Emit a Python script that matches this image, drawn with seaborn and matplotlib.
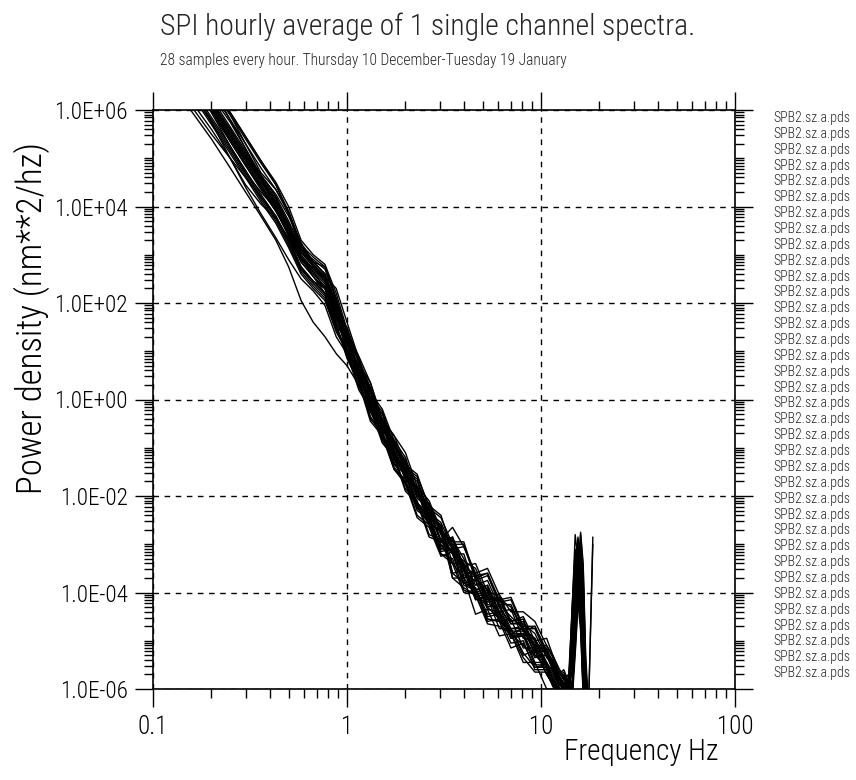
import numpy as np
import pandas as pd
import seaborn as sns
import matplotlib.pyplot as plt
from matplotlib.ticker import FixedLocator, LogLocator, NullFormatter, FuncFormatter

sns.set_theme(style="white")
plt.rcParams["font.family"] = ["Roboto Condensed", "Liberation Sans", "DejaVu Sans"]
plt.rcParams["font.weight"] = "light"
plt.rcParams["axes.labelweight"] = "light"

# Frequencies (Hz) shared by every spectrum
freq_hz = [0.10, 0.15, 0.20, 0.25, 0.30, 0.36, 0.43, 0.50, 0.58, 0.67, 0.77, 0.88,
           1.0, 1.15, 1.32, 1.52, 1.75, 2.0, 2.3, 2.65, 3.05,
           3.5, 4.0, 4.6, 5.3, 6.1, 7.0, 8.1, 9.3, 10.7,
           11.5, 12.3, 13.1, 13.9, 14.5, 15.0, 15.5, 16.0, 16.5, 17.0, 17.6, 18.5]

# log10 of power density (nm**2/hz), one list per hourly average
hour_01 = [7.1, 6.1, 5.4, 4.8, 4.3, 3.8, 3.3, 2.75, 2.05, 1.6, 1.3, 0.95,
           0.7, 0.3, -0.25, -0.75, -1.3, -1.75, -2.2, -2.6, -3.0,
           -3.4, -3.7, -4.0, -4.3, -4.55, -4.85, -5.1, -5.3, -5.55,
           -5.8, -5.95, -6.1, -5.9, -4.6, -3.5, -3.9, -3.6, -4.8, -6.3, -6.5, -6.5]
hour_02 = [8.3, 7.3, 6.6, 5.95, 5.45, 4.95, 4.45, 3.85, 3.2, 2.75, 2.55, 2.3,
           1.6, 0.85, 0.2, -0.4, -0.95, -1.4, -1.85, -2.3, -2.7,
           -3.1, -3.4, -3.7, -3.95, -4.25, -4.5, -4.75, -5.0, -5.3,
           -5.5, -5.8, -5.7, -5.95, -5.6, -4.2, -3.0, -3.5, -4.4, -6.2, -6.5, -6.5]
hour_03 = [7.8, 6.75, 6.0, 5.4, 4.9, 4.4, 3.95, 3.45, 2.9, 2.6, 2.35, 1.7,
           1.15, 0.65, -0.15, -0.45, -1.15, -1.45, -2.15, -2.35, -2.95,
           -3.0, -3.65, -3.75, -4.3, -4.25, -4.75, -4.7, -5.3, -5.3,
           -5.6, -5.85, -5.95, -5.8, -6.0, -5.0, -3.8, -3.1, -3.7, -5.6, -6.4, -6.5]
hour_04 = [8.4, 7.3, 6.5, 5.8, 5.2, 4.6, 4.05, 3.5, 2.95, 2.7, 2.45, 1.85,
           1.3, 0.55, 0.15, -0.55, -0.85, -1.55, -1.8, -2.5, -2.6,
           -3.4, -3.4, -4.15, -4.05, -4.6, -4.55, -5.15, -5.15, -5.7,
           -5.9, -6.05, -5.9, -6.1, -4.3, -3.3, -3.7, -4.2, -5.6, -6.5, -6.5, -6.5]
hour_05 = [7.5, 6.45, 5.7, 5.1, 4.6, 4.1, 3.65, 3.15, 2.6, 2.3, 2.05, 1.4,
           1.0, 0.5, -0.05, -0.8, -1.15, -1.5, -2.2, -2.5, -3.1,
           -2.9, -3.3, -3.85, -3.75, -4.3, -4.65, -4.65, -4.85, -5.35,
           -5.5, -5.75, -5.95, -5.85, -5.3, -3.8, -2.9, -3.4, -4.1, -6.1, -6.5, -6.5]
hour_06 = [7.95, 6.9, 6.15, 5.55, 5.05, 4.55, 4.1, 3.6, 3.05, 2.75, 2.5, 1.85,
           1.35, 0.65, 0.25, -0.55, -0.85, -1.45, -1.65, -2.35, -2.55,
           -3.1, -3.05, -3.65, -3.6, -4.25, -4.25, -4.8, -4.7, -5.2,
           -5.45, -5.7, -5.9, -5.8, -5.9, -4.6, -3.6, -2.8, -3.5, -5.5, -6.4, -6.5]
hour_07 = [7.65, 6.6, 5.85, 5.25, 4.75, 4.25, 3.8, 3.3, 2.75, 2.45, 2.2, 1.55,
           0.9, 0.45, -0.35, -0.75, -1.45, -1.65, -2.3, -2.5, -3.2,
           -3.4, -4.0, -3.95, -4.55, -4.6, -5.15, -5.05, -5.55, -5.5,
           -5.9, -6.1, -6.0, -6.2, -4.8, -3.6, -4.1, -4.6, -6.2, -6.5, -6.5, -6.5]
hour_08 = [8.3, 7.25, 6.5, 5.9, 5.4, 4.9, 4.45, 3.9, 3.2, 2.95, 2.75, 2.1,
           1.4, 0.9, 0.35, -0.4, -0.75, -1.1, -1.8, -2.1, -2.7,
           -3.05, -3.45, -4.0, -3.9, -4.45, -4.8, -4.8, -5.0, -5.5,
           -5.7, -5.9, -5.8, -6.0, -4.9, -3.7, -3.0, -3.6, -4.9, -6.3, -6.5, -6.5]
hour_09 = [7.2, 6.2, 5.5, 5.0, 4.6, 4.2, 3.8, 3.3, 2.75, 2.45, 2.2, 1.55,
           0.85, 0.35, -0.45, -0.75, -1.45, -1.75, -2.45, -2.65, -3.25,
           -3.15, -3.8, -3.9, -4.45, -4.4, -4.9, -4.85, -5.45, -5.45,
           -5.8, -5.95, -6.1, -5.95, -6.1, -4.8, -4.0, -3.3, -4.2, -6.0, -6.5, -6.5]
hour_10 = [8.0, 6.95, 6.2, 5.6, 5.1, 4.6, 4.15, 3.65, 3.1, 2.8, 2.55, 1.9,
           1.2, 0.45, 0.05, -0.65, -0.95, -1.65, -1.9, -2.6, -2.7,
           -2.95, -2.95, -3.7, -3.6, -4.15, -4.1, -4.7, -4.7, -5.25,
           -5.4, -5.7, -5.6, -5.85, -4.5, -3.2, -3.5, -4.0, -5.3, -6.4, -6.5, -6.5]
hour_11 = [7.6, 6.55, 5.8, 5.2, 4.7, 4.2, 3.75, 3.25, 2.7, 2.4, 2.15, 1.5,
           1.3, 0.6, -0.05, -0.4, -1.05, -1.6, -1.8, -2.4, -2.6,
           -3.7, -3.9, -4.05, -4.65, -4.7, -4.85, -5.35, -5.65, -5.65,
           -5.95, -6.1, -6.2, -6.1, -5.8, -4.4, -3.5, -3.9, -5.0, -6.4, -6.5, -6.5]
hour_12 = [8.0, 7.0, 6.4, 5.9, 5.3, 4.7, 4.35, 3.9, 3.2, 2.85, 2.75, 2.1,
           1.3, 0.8, 0.0, -0.3, -1.0, -1.3, -2.0, -2.2, -2.8,
           -2.9, -3.55, -3.65, -4.2, -4.15, -4.65, -4.6, -5.2, -5.2,
           -5.5, -5.8, -5.9, -5.95, -6.0, -5.2, -4.2, -3.2, -3.8, -5.8, -6.3, -3.0]
hour_13 = [7.85, 6.8, 6.05, 5.35, 4.85, 4.4, 3.9, 3.5, 2.95, 2.55, 2.3, 1.75,
           0.95, 0.45, -0.1, -0.85, -1.2, -1.55, -2.25, -2.55, -3.15,
           -3.1, -3.5, -4.05, -3.95, -4.5, -4.85, -4.85, -5.05, -5.55,
           -5.75, -5.95, -5.85, -6.05, -5.0, -3.8, -4.2, -4.8, -6.1, -6.5, -6.5, -6.5]
hour_14 = [7.9, 6.85, 6.1, 5.5, 5.0, 4.5, 4.05, 3.55, 3.0, 2.7, 2.45, 1.8,
           1.15, 0.7, -0.1, -0.5, -1.2, -1.4, -2.05, -2.25, -2.95,
           -2.85, -3.45, -3.4, -4.0, -4.05, -4.6, -4.5, -5.0, -4.95,
           -5.3, -5.6, -5.8, -5.7, -5.7, -4.1, -2.85, -3.3, -4.3, -6.1, -6.5, -6.5]
hour_15 = [7.75, 6.7, 5.95, 5.35, 4.85, 4.35, 3.9, 3.4, 2.85, 2.55, 2.3, 1.65,
           1.3, 0.6, 0.2, -0.6, -0.9, -1.5, -1.7, -2.4, -2.6,
           -3.6, -3.55, -4.15, -4.1, -4.75, -4.75, -5.3, -5.2, -5.7,
           -5.9, -6.05, -6.2, -6.1, -6.2, -5.3, -4.3, -3.5, -4.0, -5.9, -6.5, -6.5]
hour_16 = [8.05, 7.0, 6.25, 5.65, 5.15, 4.65, 4.2, 3.7, 3.15, 2.85, 2.6, 1.95,
           1.05, 0.55, 0.0, -0.75, -1.1, -1.45, -2.15, -2.45, -3.05,
           -3.0, -3.4, -3.95, -3.85, -4.4, -4.75, -4.75, -4.95, -5.45,
           -5.65, -5.9, -6.0, -5.9, -4.2, -3.1, -3.6, -4.5, -6.0, -6.5, -6.5, -6.5]
hour_17 = [7.6, 6.6, 5.75, 5.0, 4.45, 4.05, 3.75, 3.35, 2.85, 2.55, 2.2, 1.5,
           1.0, 0.25, -0.15, -0.85, -1.15, -1.85, -2.1, -2.8, -2.9,
           -3.2, -3.2, -3.95, -3.85, -4.4, -4.35, -4.95, -4.95, -5.5,
           -5.6, -5.85, -5.75, -5.95, -5.4, -4.0, -3.0, -3.6, -4.7, -6.3, -6.5, -6.5]
hour_18 = [8.2, 7.15, 6.4, 5.8, 5.3, 4.8, 4.35, 3.85, 3.1, 2.9, 2.7, 2.05,
           1.35, 0.85, 0.05, -0.25, -0.95, -1.25, -1.95, -2.15, -2.75,
           -3.2, -3.85, -3.95, -4.5, -4.45, -4.95, -4.9, -5.5, -5.5,
           -5.85, -6.0, -6.1, -6.0, -6.1, -4.9, -3.9, -3.4, -3.9, -5.7, -6.4, -6.5]
hour_19 = [7.85, 6.8, 6.05, 5.45, 4.95, 4.45, 4.0, 3.5, 2.95, 2.65, 2.4, 1.75,
           1.5, 0.8, 0.15, -0.2, -0.85, -1.4, -1.6, -2.2, -2.4,
           -3.15, -3.35, -3.5, -4.1, -4.15, -4.3, -4.8, -5.1, -5.1,
           -5.35, -5.65, -5.8, -5.7, -4.3, -2.8, -3.3, -4.0, -5.5, -6.5, -6.5, -6.5]
hour_20 = [7.9, 6.8, 5.95, 5.25, 4.7, 4.3, 3.95, 3.4, 2.7, 2.45, 2.3, 1.6,
           1.15, 0.45, 0.05, -0.75, -1.05, -1.65, -1.85, -2.55, -2.75,
           -3.7, -3.7, -4.45, -4.35, -4.9, -4.85, -5.45, -5.45, -6.0,
           -6.0, -6.2, -6.1, -6.3, -5.9, -4.6, -3.6, -4.1, -5.4, -6.5, -6.5, -6.5]
hour_21 = [8.0, 6.9, 6.15, 5.6, 5.1, 4.65, 4.2, 3.6, 3.05, 2.85, 2.6, 1.85,
           1.2, 0.7, 0.15, -0.6, -0.95, -1.3, -2.0, -2.3, -2.9,
           -2.65, -3.05, -3.6, -3.5, -4.05, -4.4, -4.4, -4.6, -5.1,
           -5.3, -5.55, -5.75, -5.85, -5.95, -4.8, -3.7, -2.75, -3.4, -5.3, -6.4, -6.5]
hour_22 = [7.55, 6.5, 5.75, 5.15, 4.65, 4.15, 3.7, 3.2, 2.65, 2.35, 2.1, 1.45,
           1.0, 0.55, -0.25, -0.65, -1.35, -1.55, -2.2, -2.4, -3.1,
           -3.1, -3.7, -3.65, -4.25, -4.3, -4.85, -4.75, -5.25, -5.2,
           -5.55, -5.85, -5.95, -5.85, -4.8, -3.3, -3.8, -4.4, -5.9, -6.5, -6.5, -6.5]
hour_23 = [8.1, 7.0, 6.3, 5.75, 5.2, 4.65, 4.25, 3.8, 3.25, 2.85, 2.6, 2.0,
           1.25, 0.55, -0.1, -0.45, -1.1, -1.65, -1.85, -2.45, -2.65,
           -3.6, -3.8, -3.95, -4.55, -4.6, -4.75, -5.25, -5.55, -5.55,
           -5.85, -6.0, -6.1, -6.0, -5.6, -4.2, -3.3, -3.8, -5.1, -6.4, -6.5, -6.5]
hour_24 = [7.95, 6.85, 6.1, 5.45, 5.0, 4.55, 4.0, 3.55, 2.95, 2.7, 2.5, 1.8,
           1.05, 0.55, -0.25, -0.55, -1.25, -1.55, -2.25, -2.45, -3.05,
           -2.85, -3.5, -3.6, -4.15, -4.1, -4.6, -4.55, -5.15, -5.15,
           -5.45, -5.75, -5.65, -5.9, -6.0, -5.1, -4.0, -3.0, -3.7, -5.9, -6.3, -2.85]
hour_25 = [7.3, 6.3, 5.6, 5.0, 4.4, 3.85, 3.35, 2.9, 2.5, 2.25, 1.95, 1.3,
           0.95, 0.2, -0.2, -0.9, -1.2, -1.9, -2.15, -2.85, -2.95,
           -3.15, -3.55, -4.1, -4.0, -4.55, -4.9, -4.9, -5.1, -5.6,
           -5.85, -6.05, -5.95, -6.15, -4.9, -3.7, -4.0, -4.6, -6.0, -6.5, -6.5, -6.5]
hour_26 = [8.35, 7.3, 6.55, 5.95, 5.45, 4.95, 4.5, 4.0, 3.3, 3.0, 2.8, 2.2,
           1.45, 0.75, 0.35, -0.45, -0.75, -1.35, -1.55, -2.25, -2.45,
           -3.0, -3.0, -3.75, -3.65, -4.2, -4.15, -4.75, -4.75, -5.3,
           -5.5, -5.75, -5.9, -5.8, -5.3, -3.8, -2.9, -3.4, -4.5, -6.2, -6.5, -6.5]
hour_27 = [7.8, 6.7, 6.0, 5.4, 4.95, 4.45, 3.95, 3.4, 2.9, 2.65, 2.3, 1.7,
           1.3, 0.8, 0.25, -0.5, -0.85, -1.2, -1.9, -2.2, -2.8,
           -3.2, -3.8, -3.75, -4.35, -4.4, -4.95, -4.85, -5.35, -5.3,
           -5.6, -5.85, -6.0, -5.95, -6.0, -5.1, -3.9, -3.3, -4.0, -5.8, -6.4, -6.5]
hour_28 = [7.95, 6.95, 6.15, 5.5, 5.05, 4.6, 4.1, 3.55, 3.05, 2.8, 2.5, 1.9,
           0.9, 0.4, -0.4, -0.7, -1.4, -1.7, -2.4, -2.6, -3.2,
           -3.3, -3.95, -4.05, -4.6, -4.55, -5.05, -5.0, -5.6, -5.6,
           -5.9, -6.1, -6.0, -6.2, -5.2, -3.6, -4.0, -4.3, -5.8, -6.5, -6.5, -6.5]

spectra = [hour_01, hour_02, hour_03, hour_04, hour_05, hour_06, hour_07,
           hour_08, hour_09, hour_10, hour_11, hour_12, hour_13, hour_14,
           hour_15, hour_16, hour_17, hour_18, hour_19, hour_20, hour_21,
           hour_22, hour_23, hour_24, hour_25, hour_26, hour_27, hour_28]

# File names listed at the right of the plot
file_labels = ["SPB2.sz.a.pds"] * 36

y_ticks = [1e-6, 1e-4, 1e-2, 1e0, 1e2, 1e4, 1e6]
x_ticks = [0.1, 1, 10, 100]
x_tick_labels = ["0.1", "1", "10", "100"]

title = "SPI hourly average of 1 single channel spectra."
subtitle = "28 samples every hour. Thursday 10 December-Tuesday 19 January"

# Long table for seaborn
rows = []
for n, vals in enumerate(spectra):
    for f, v in zip(freq_hz, vals):
        rows.append((n, f, 10.0 ** v))
df = pd.DataFrame(rows, columns=["sample", "freq", "power"])

fig = plt.figure(figsize=(8.56, 7.8), dpi=100)
ax = fig.add_axes([153 / 856, 1 - 689 / 780, 582 / 856, 579 / 780])
ax.set_xscale("log")
ax.set_yscale("log")

sns.lineplot(data=df, x="freq", y="power", units="sample", estimator=None,
             sort=False, color="black", linewidth=1.0, legend=False, ax=ax)

ax.set_xlim(0.1, 100)
ax.set_ylim(1e-6, 1e6)

# Ticks
ax.xaxis.set_major_locator(FixedLocator(x_ticks))
ax.set_xticklabels(x_tick_labels)
ax.xaxis.set_minor_locator(LogLocator(base=10, subs=np.arange(2, 10), numticks=100))
ax.xaxis.set_minor_formatter(NullFormatter())
ax.yaxis.set_major_locator(FixedLocator(y_ticks))
ax.yaxis.set_major_formatter(FuncFormatter(lambda v, p: f"{v:.1E}"))
ax.yaxis.set_minor_locator(LogLocator(base=10, subs=np.arange(1, 10), numticks=200))
ax.yaxis.set_minor_formatter(NullFormatter())

ax.tick_params(which="both", direction="out", bottom=True, left=True, top=True,
               right=True, color="black", width=1.0, labelcolor="black")
ax.tick_params(which="major", length=13)
ax.tick_params(which="minor", length=6.5)
ax.tick_params(axis="y", which="major", pad=5, labelsize=16.7)
ax.tick_params(axis="x", which="major", pad=6, labelsize=18)

for s in ax.spines.values():
    s.set_color("black")
    s.set_linewidth(1.2)

ax.grid(True, which="major", color="black", linestyle=(0, (4, 4)), linewidth=1.0)
ax.set_axisbelow(True)

# Axis labels
ax.set_xlabel("Frequency Hz", fontsize=21, loc="right", color="black",
              fontweight="light")
ax.xaxis.set_label_coords((718 - 153) / 582, (689 - 738) / 579)
ax.set_ylabel("Power density (nm**2/hz)", fontsize=25, color="black",
              fontweight="light")
ax.yaxis.set_label_coords((50 - 153) / 582, 0.64)

# Titles
fig.text(160 / 856, 1 - 27 / 780, title, fontsize=21.3, ha="left", va="center")
fig.text(160 / 856, 1 - 61 / 780, subtitle, fontsize=11.2, ha="left", va="center")

# File list
for i, lab in enumerate(file_labels):
    fig.text(773 / 856, 1 - (118 + i * 15.86) / 780, lab, fontsize=10,
             ha="left", va="center")

fig.savefig("out.png", dpi=100)
